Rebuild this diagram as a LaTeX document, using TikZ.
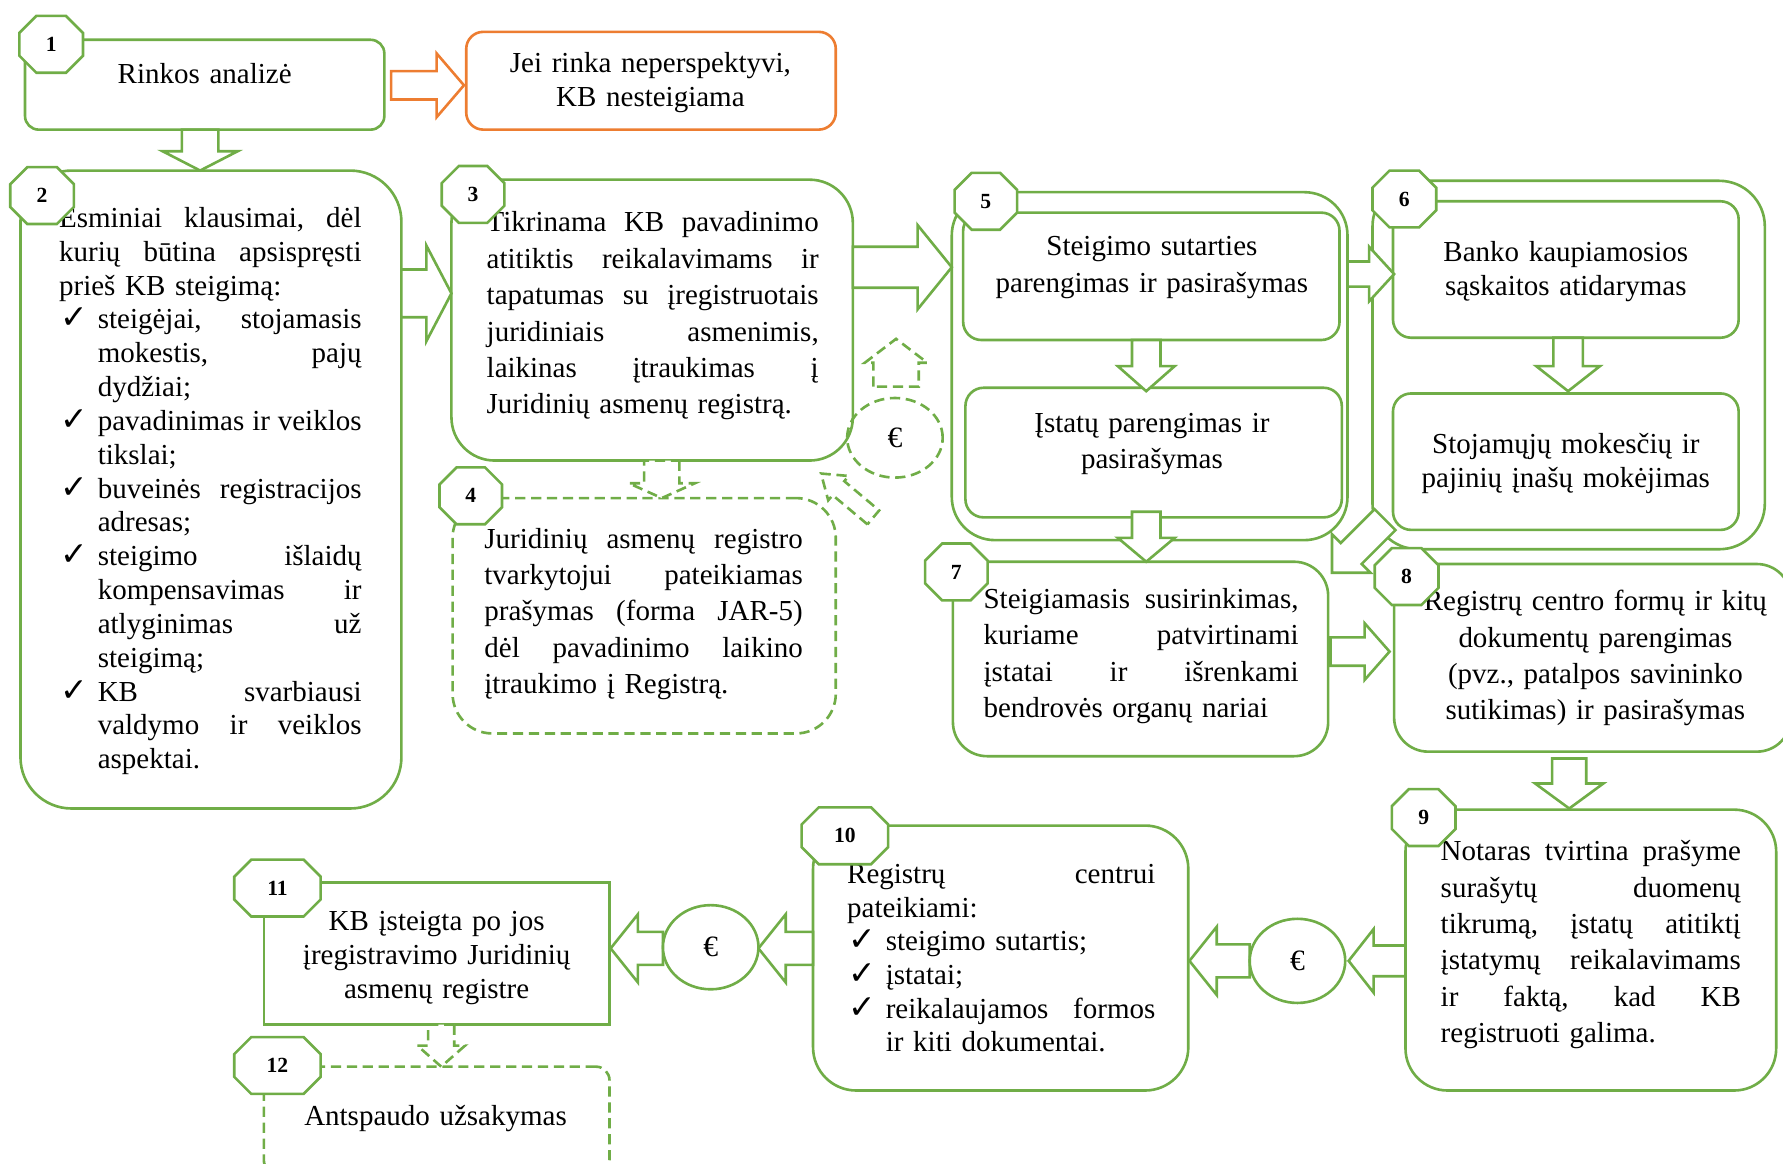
\documentclass[tikz,border=0pt]{standalone}
\usepackage{fontspec}
\setmainfont{Liberation Serif}
\newfontfamily\dejavu{DejaVu Sans}
\usetikzlibrary{shapes.geometric}
\definecolor{gr}{HTML}{70AD47}
\definecolor{orng}{HTML}{ED7D31}
\newlength\ind \setlength\ind{34pt}
\newlength\lw
\newcommand\ck{{\dejavu\bfseries\fontsize{29}{29}\selectfont ✓}}
\def\jlsplit#1 #2\jlend{#1\ifx\relax#2\relax\else\hfill\jlsplit#2\jlend\fi}
\newcommand\jl[1]{\leavevmode\hbox to\lw{\jlsplit#1 \jlend}}
\newcommand\il[1]{\leavevmode\hspace*{\ind}\hbox to\dimexpr\lw-\ind\relax{\jlsplit#1 \jlend}}
\newcommand\ipl[1]{\leavevmode\hspace*{\ind}#1}
\newcommand\cjl[1]{\leavevmode\hbox to\ind{\hspace*{1pt}\ck\hss}\hbox to\dimexpr\lw-\ind\relax{\jlsplit#1 \jlend}}
\newcommand\cpl[1]{\leavevmode\hbox to\ind{\hspace*{1pt}\ck\hss}#1}
\newcommand\rbox[6]{\node[#2, minimum width={#5-#3}, minimum height={#6-#4}] (#1) at ({(#3+#5)/2},{(#4+#6)/2}) {};}
\newcommand\badge[5]{%
  \pgfmathsetmacro\bw{#4/2}\pgfmathsetmacro\bh{25}\pgfmathsetmacro\bc{15}%
  \draw[badgeline] ({#2-\bw+\bc},{#3-\bh}) -- ({#2+\bw-\bc},{#3-\bh}) -- ({#2+\bw},{#3-\bh+\bc})
    -- ({#2+\bw},{#3+\bh-\bc}) -- ({#2+\bw-\bc},{#3+\bh}) -- ({#2-\bw+\bc},{#3+\bh})
    -- ({#2-\bw},{#3+\bh-\bc}) -- ({#2-\bw},{#3-\bh+\bc}) -- cycle;
  \node[badgetxt] (#1) at (#2,#3) {#5};}
\tikzset{
  pics/barr/.style args={#1/#2/#3/#4}{code={
    \path[pic actions] (0,-#4) -- ({#1-#2},-#4) -- ({#1-#2},-#3) -- (#1,0)
      -- ({#1-#2},#3) -- ({#1-#2},#4) -- (0,#4) -- cycle;}},
  gbox/.style={draw=gr, line width=2.3pt, fill=white, inner sep=0pt, outer sep=0pt},
  obox/.style={gbox, draw=orng},
  dashpat/.style={dash pattern=on 9pt off 5pt},
  dbox/.style={gbox, dashpat},
  garrow/.style={draw=gr, fill=white, line width=2.3pt, line join=miter},
  oarrow/.style={garrow, draw=orng},
  darrow/.style={garrow, dashpat},
  badgeline/.style={draw=gr, fill=white, line width=2.3pt},
  badgetxt/.style={inner sep=0pt, font=\fontsize{19}{19}\selectfont\bfseries},
  txt/.style={inner sep=0pt, outer sep=0pt, align=left, font=\fontsize{25.5}{32}\selectfont},
  ctxt/.style={txt, align=center, anchor=base},
  ecirc/.style={ellipse, draw=gr, line width=2.3pt, fill=white, inner sep=0pt,
    minimum width=84pt, minimum height=74pt, font=\fontsize{26}{26}\selectfont},
}
\begin{document}
\begin{tikzpicture}[x=1pt,y=-1pt]
\useasboundingbox (0,0) rectangle (1568,1023);
\clip (0,0) rectangle (1568,1023);
% boxes
\rbox{b1}{gbox, rounded corners=12}{22}{35}{338}{114}
\rbox{b0}{obox, rounded corners=15}{410}{28}{735}{114}
\rbox{b2}{gbox, rounded corners=45}{18}{150}{353}{711}
\rbox{b3}{gbox, rounded corners=38}{397}{158}{750}{405}
\rbox{b4}{dbox, rounded corners=35}{398}{438}{735}{645}
\rbox{g5}{gbox, rounded corners=38}{837}{169}{1185}{475}
\rbox{b5a}{gbox, rounded corners=16}{847}{187}{1178}{299}
\rbox{b5b}{gbox, rounded corners=16}{849}{341}{1180}{455}
\rbox{g6}{gbox, rounded corners=40}{1207}{159}{1552}{483}
\rbox{b6a}{gbox, rounded corners=16}{1225}{177}{1529}{297}
\rbox{b6b}{gbox, rounded corners=16}{1225}{346}{1529}{466}
\rbox{b7}{gbox, rounded corners=30}{838}{494}{1168}{665}
\rbox{b8}{gbox, rounded corners=30}{1226}{496}{1575}{661}
\rbox{b9}{gbox, rounded corners=37}{1236}{712}{1562}{959}
\rbox{b10}{gbox, rounded corners=38}{715}{726}{1045}{959}
\rbox{b11}{gbox}{232}{776}{536}{901}
\rbox{b12}{dbox, rounded corners=12}{232}{938}{536}{1032}
% block arrows
\pic[oarrow] at (344,75) {barr=64/24/28/12.5};
\pic[garrow, rotate=-90] at (176,114) {barr=36/17/33/16};
\pic[garrow] at (353,258) {barr=44/22/42/21};
\pic[garrow] at (750,235) {barr=87/30/37/18};
\pic[garrow] at (1185,241) {barr=41/22/24/11};
\pic[garrow, rotate=-90] at (1008,299) {barr=45/22/25/12.5};
\pic[garrow, rotate=-90] at (1008,450) {barr=44/21/25/12.5};
\pic[garrow, rotate=-90] at (1379,297) {barr=47/22/28/13};
\pic[garrow, rotate=225] at (1218,457) {barr=66/24/24/13};
\pic[garrow] at (1170,573) {barr=52/22/25/12.5};
\pic[garrow, rotate=-90] at (1380,667) {barr=44/22/30/15};
\pic[garrow, rotate=180] at (1236,845) {barr=50/22/28/13.5};
\pic[garrow, rotate=180] at (1099,845) {barr=53/24/30/14.5};
\pic[garrow, rotate=180] at (715,834) {barr=48/24/30/14.5};
\pic[garrow, rotate=180] at (583,834) {barr=46/24/30/14.5};
\pic[darrow, rotate=-90] at (388,901) {barr=37/18.5/21/11.5};
\pic[darrow, rotate=-90] at (582,405) {barr=33/13/29/15.5};
\pic[darrow, rotate=90] at (788,340) {barr=42/21/27.5/20};
\pic[darrow, rotate=140] at (768,455) {barr=60/20/14/8};
% euro circles
\node[ecirc] (e1) at (1141,845) {€};
\node[ecirc] (e2) at (625,833) {€};
\node[ecirc, dashpat, fill=none, minimum height=70pt] (e0) at (787,385) {€};
% texts
\node[ctxt, text width=300pt] (t1) at (180,73) {Rinkos analizė};
\node[ctxt, text width=320pt, font=\fontsize{25.5}{30}\selectfont] (t0) at (572,64) {Jei rinka neperspektyvi,\\KB nesteigiama};
\global\lw=266pt
\node[txt, text width=266pt, anchor=base west, font=\fontsize{25.5}{29.75}\selectfont] (t2) at (52,200) {%
\jl{Esminiai klausimai, dėl}\\
\jl{kurių būtina apsispręsti}\\
prieš KB steigimą:\\
\cjl{steigėjai, stojamasis}\\
\il{mokestis, pajų}\\
\ipl{dydžiai;}\\
\cjl{pavadinimas ir veiklos}\\
\ipl{tikslai;}\\
\cjl{buveinės registracijos}\\
\ipl{adresas;}\\
\cjl{steigimo išlaidų}\\
\il{kompensavimas ir}\\
\il{atlyginimas už}\\
\ipl{steigimą;}\\
\cjl{KB svarbiausi}\\
\il{valdymo ir veiklos}\\
\ipl{aspektai.}};
\global\lw=292pt
\node[txt, text width=292pt, anchor=base west] (t3) at (428,204) {%
\jl{Tikrinama KB pavadinimo}\\
\jl{atitiktis reikalavimams ir}\\
\jl{tapatumas su įregistruotais}\\
\jl{juridiniais asmenimis,}\\
\jl{laikinas įtraukimas į}\\
Juridinių asmenų registrą.};
\global\lw=280pt
\node[txt, text width=280pt, anchor=base west] (t4) at (426,482) {%
\jl{Juridinių asmenų registro}\\
\jl{tvarkytojui pateikiamas}\\
\jl{prašymas (forma JAR-5)}\\
\jl{dėl pavadinimo laikino}\\
įtraukimo į Registrą.};
\node[ctxt, text width=320pt] (t5a) at (1013,225) {Steigimo sutarties\\parengimas ir pasirašymas};
\node[ctxt, text width=320pt] (t5b) at (1013,380) {Įstatų parengimas ir\\pasirašymas};
\node[ctxt, text width=300pt, font=\fontsize{25.5}{30}\selectfont] (t6a) at (1377,230) {Banko kaupiamosios\\sąskaitos atidarymas};
\node[ctxt, text width=300pt, font=\fontsize{25.5}{30}\selectfont] (t6b) at (1377,399) {Stojamųjų mokesčių ir\\pajinių įnašų mokėjimas};
\global\lw=277pt
\node[txt, text width=277pt, anchor=base west] (t7) at (865,535) {%
\jl{Steigiamasis susirinkimas,}\\
\jl{kuriame patvirtinami}\\
\jl{įstatai ir išrenkami}\\
bendrovės organų nariai};
\node[ctxt, text width=340pt] (t8) at (1403,537) {Registrų centro formų ir kitų\\dokumentų parengimas\\(pvz., patalpos savininko\\sutikimas) ir pasirašymas};
\global\lw=264pt
\node[txt, text width=264pt, anchor=base west] (t9) at (1267,757) {%
\jl{Notaras tvirtina prašyme}\\
\jl{surašytų duomenų}\\
\jl{tikrumą, įstatų atitiktį}\\
\jl{įstatymų reikalavimams}\\
\jl{ir faktą, kad KB}\\
registruoti galima.};
\global\lw=271pt
\node[txt, text width=271pt, anchor=base west, font=\fontsize{25.5}{29.6}\selectfont] (t10) at (745,777) {%
\jl{Registrų centrui}\\
pateikiami:\\
\cpl{steigimo sutartis;}\\
\cpl{įstatai;}\\
\cjl{reikalaujamos formos}\\
\ipl{ir kiti dokumentai.}};
\node[ctxt, text width=300pt, font=\fontsize{25.5}{30}\selectfont] (t11) at (384,818) {KB įsteigta po jos\\įregistravimo Juridinių\\asmenų registre};
\node[ctxt, text width=300pt] (t12) at (383,990) {Antspaudo užsakymas};
% badges
\badge{n1}{45}{39}{56}{1}
\badge{n2}{37}{172}{56}{2}
\badge{n3}{416}{171}{55}{3}
\badge{n4}{414}{436}{55}{4}
\badge{n5}{867}{177}{55}{5}
\badge{n6}{1235}{175}{56}{6}
\badge{n7}{841}{503}{55}{7}
\badge{n8}{1237}{507}{56}{8}
\badge{n9}{1252}{719}{56}{9}
\badge{n10}{743}{735}{76}{10}
\badge{n11}{244}{781}{76}{11}
\badge{n12}{244}{937}{76}{12}
\end{tikzpicture}
\end{document}
